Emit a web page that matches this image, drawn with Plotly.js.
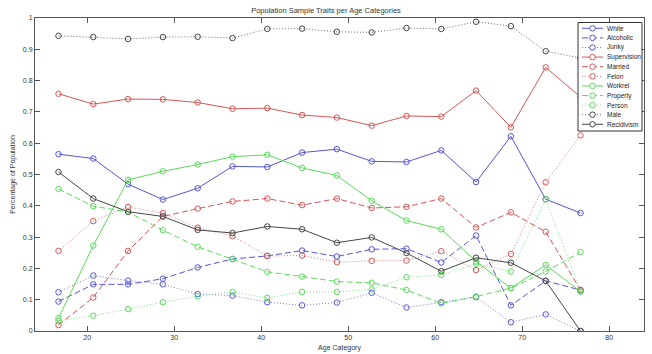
<!DOCTYPE html>
<html>
<head>
<meta charset="utf-8">
<script src="https://cdn.plot.ly/plotly-3.0.1.min.js"></script>
<style>html,body{margin:0;padding:0;background:#fff;}#chart{width:652px;height:354px;}</style>
</head>
<body>
<div id="chart"></div>
<script>
var ages = [16.7,20.7,24.7,28.7,32.7,36.7,40.7,44.7,48.7,52.7,56.7,60.7,64.7,68.7,72.7,76.7];
var white = [0.565,0.551,0.469,0.420,0.456,0.526,0.524,0.570,0.581,0.542,0.540,0.577,0.476,0.622,0.421,0.377];
var alcoholic = [0.094,0.149,0.149,0.167,0.203,0.230,0.240,0.257,0.238,0.261,0.263,0.219,0.305,0.082,0.160,0.131];
var junky = [0.124,0.177,0.161,0.149,0.118,0.113,0.092,0.082,0.091,0.122,0.075,0.092,0.108,0.028,0.053,0.0];
var supervision = [0.758,0.725,0.741,0.740,0.730,0.710,0.712,0.690,0.682,0.656,0.687,0.685,0.768,0.651,0.842,0.748];
var married = [0.019,0.107,0.256,0.366,0.391,0.414,0.423,0.402,0.423,0.393,0.397,0.423,0.331,0.379,0.317,0.131];
var felon = [0.256,0.351,0.396,0.377,0.330,0.303,0.240,0.241,0.220,0.224,0.225,0.255,0.195,0.246,0.475,0.625];
var workrel = [0.041,0.273,0.483,0.510,0.532,0.557,0.563,0.521,0.497,0.416,0.353,0.325,0.222,0.137,0.211,0.126];
var property = [0.454,0.399,0.380,0.322,0.269,0.230,0.189,0.174,0.158,0.154,0.131,0.088,0.110,0.137,0.190,0.252];
var person = [0.032,0.049,0.070,0.092,0.111,0.125,0.106,0.125,0.125,0.133,0.172,0.179,0.215,0.190,0.421,0.126];
var male = [0.943,0.939,0.933,0.939,0.940,0.936,0.965,0.966,0.956,0.954,0.968,0.965,0.988,0.974,0.894,0.872];
var recidivism = [0.508,0.423,0.381,0.366,0.323,0.313,0.334,0.325,0.282,0.299,0.249,0.191,0.234,0.218,0.160,0.0];

var seriesNames = ["White","Alcoholic","Junky","Supervision","Married","Felon","Workrel","Property","Person","Male","Recidivism"];
var seriesData = [white,alcoholic,junky,supervision,married,felon,workrel,property,person,male,recidivism];

var BLUE = "rgb(85,85,215)", RED = "rgb(215,85,85)", GREEN = "rgb(90,220,90)", BLACK = "rgb(70,70,70)";
var DASH = "6px,3px", DOT = "1px,2px";
var styles = [
  [BLUE,"solid"],[BLUE,DASH],[BLUE,DOT],
  [RED,"solid"],[RED,DASH],[RED,DOT],
  [GREEN,"solid"],[GREEN,DASH],[GREEN,DOT],
  [BLACK,DOT],[BLACK,"solid"]
];

var traces = seriesNames.map(function(n,i){
  var dotted = styles[i][1] === DOT;
  return {
    x: ages, y: seriesData[i], name: n, type: "scatter", mode: "lines+markers",
    line: {color: styles[i][0], width: dotted ? 0.8 : 1, dash: styles[i][1]},
    marker: {symbol: "circle-open", size: 5.5, color: styles[i][0], line: {width: 1, color: styles[i][0]}},
    showlegend: false, hoverinfo: "skip"
  };
});

// custom compact legend (MATLAB-like)
var L = 35, T = 18, W = 609, H = 313;
function px(x){ return (x - L) / W; }
function py(y){ return (T + H - y) / H; }
var shapes = [{
  type: "rect", xref: "paper", yref: "paper",
  x0: px(578), x1: px(642), y0: py(131), y1: py(22.5),
  line: {color: "#333", width: 1}, fillcolor: "#fff", layer: "above"
}];
var annotations = [];
seriesNames.forEach(function(n,i){
  var yc = 28.3 + i * 9.6;
  var dotted = styles[i][1] === DOT;
  shapes.push({type: "line", xref: "paper", yref: "paper",
    x0: px(582), x1: px(603), y0: py(yc), y1: py(yc),
    line: {color: styles[i][0], width: dotted ? 0.8 : 1, dash: styles[i][1]}, layer: "above"});
  shapes.push({type: "circle", xref: "paper", yref: "paper",
    xsizemode: "pixel", ysizemode: "pixel", xanchor: px(592.5), yanchor: py(yc),
    x0: -2.75, x1: 2.75, y0: -2.75, y1: 2.75,
    line: {color: styles[i][0], width: 1}, fillcolor: "#fff", layer: "above"});
  annotations.push({xref: "paper", yref: "paper", x: px(604.5), y: py(yc),
    xanchor: "left", yanchor: "middle", showarrow: false, text: n,
    font: {size: 6.5, color: "#222", family: "Liberation Sans, Arial, sans-serif"}});
});

var xTickVals = [20,30,40,50,60,70,80];
var yTickVals = [0,0.1,0.2,0.3,0.4,0.5,0.6,0.7,0.8,0.9,1];
var yTickText = ["0","0.1","0.2","0.3","0.4","0.5","0.6","0.7","0.8","0.9","1"];

var layout = {
  width: 652, height: 354,
  margin: {l: L, r: 652 - L - W, t: T, b: 354 - T - H},
  paper_bgcolor: "#fff", plot_bgcolor: "#fff",
  font: {family: "Liberation Sans, Arial, sans-serif", size: 7, color: "#333"},
  title: {text: "Population Sample Traits per Age Categories", x: 0.5, xanchor: "center", y: 0.972, yanchor: "middle",
    font: {size: 7.5, color: "#333"}},
  xaxis: {
    range: [14, 84], tickvals: xTickVals, ticks: "inside", ticklen: 5, tickcolor: "#555",
    showline: true, linecolor: "#555", linewidth: 1, mirror: "ticks", showgrid: false, zeroline: false,
    tickfont: {size: 7, color: "#333"},
    title: {text: "Age Category", font: {size: 7, color: "#333"}, standoff: 4}
  },
  yaxis: {
    range: [0, 1], tickvals: yTickVals, ticktext: yTickText, ticks: "inside", ticklen: 5, tickcolor: "#555",
    showline: true, linecolor: "#555", linewidth: 1, mirror: "ticks", showgrid: false, zeroline: false,
    tickfont: {size: 7, color: "#333"},
    title: {text: "Percentage of Population", font: {size: 7, color: "#333"}, standoff: 6}
  },
  shapes: shapes,
  annotations: annotations,
  showlegend: false
};

Plotly.newPlot("chart", traces, layout, {displayModeBar: false, staticPlot: true});
</script>
</body>
</html>
